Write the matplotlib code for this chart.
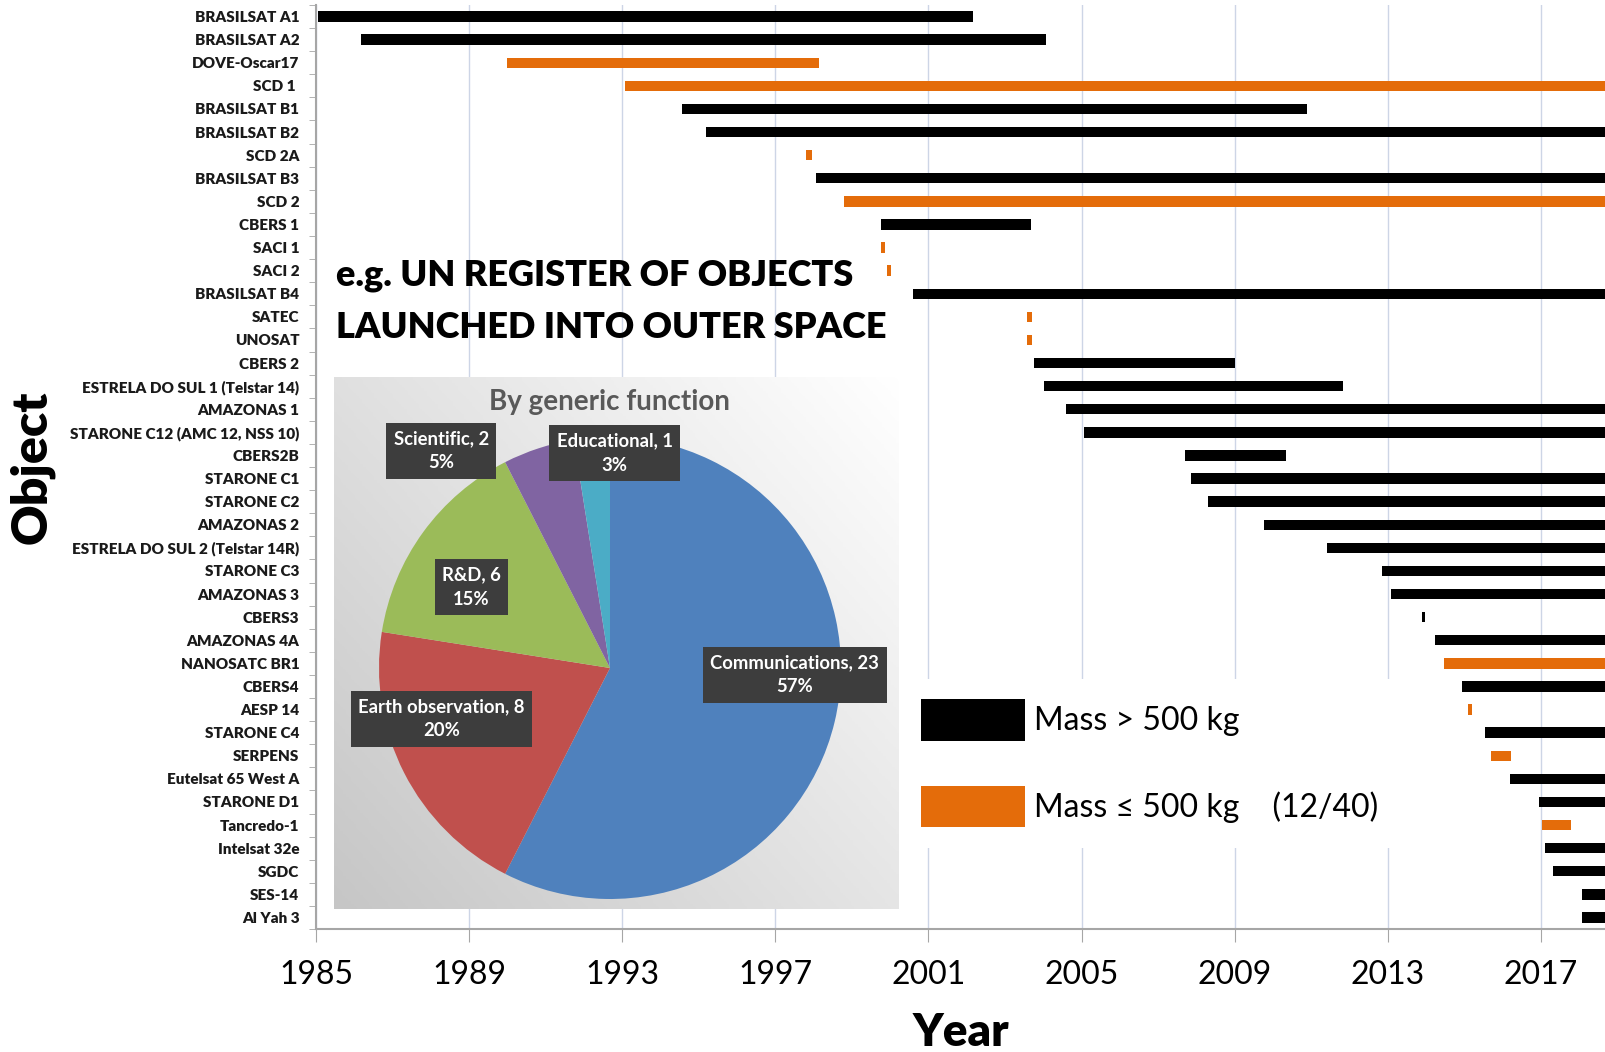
import numpy as np
import matplotlib
matplotlib.use("Agg")
from matplotlib import pyplot as plt
from matplotlib.patches import Patch
from matplotlib.colors import LinearSegmentedColormap

plt.rcParams['font.family'] = ['Lato', 'DejaVu Sans']

# satellites, in launch order (start/end in decimal years)
names = ["BRASILSAT A1", "BRASILSAT A2", "DOVE-Oscar17", "SCD 1 ", "BRASILSAT B1",
         "BRASILSAT B2", "SCD 2A", "BRASILSAT B3", "SCD 2", "CBERS 1",
         "SACI 1", "SACI 2", "BRASILSAT B4", "SATEC", "UNOSAT",
         "CBERS 2", "ESTRELA DO SUL 1 (Telstar 14)", "AMAZONAS 1",
         "STARONE C12 (AMC 12, NSS 10)", "CBERS2B",
         "STARONE C1", "STARONE C2", "AMAZONAS 2", "ESTRELA DO SUL 2 (Telstar 14R)",
         "STARONE C3", "AMAZONAS 3", "CBERS3", "AMAZONAS 4A", "NANOSATC BR1", "CBERS4",
         "AESP 14", "STARONE C4", "SERPENS", "Eutelsat 65 West A", "STARONE D1",
         "Tancredo-1", "Intelsat 32e", "SGDC", "SES-14", "Al Yah 3"]
start = [1985.05, 1986.18, 1990.0, 1993.06, 1994.56,
         1995.18, 1997.8, 1998.07, 1998.79, 1999.76,
         1999.76, 1999.92, 2000.59, 2003.58, 2003.58,
         2003.77, 2004.01, 2004.58, 2005.06, 2007.71,
         2007.87, 2008.3, 2009.77, 2011.4, 2012.85,
         2013.09, 2013.9, 2014.24, 2014.46, 2014.94,
         2015.1, 2015.53, 2015.69, 2016.2, 2016.95,
         2017.03, 2017.11, 2017.32, 2018.07, 2018.07]
end = [2002.17, 2004.07, 1998.15, 2018.7, 2010.9,
       2018.7, 1997.95, 2018.7, 2018.7, 2003.67,
       1999.86, 2000.02, 2018.7, 2003.7, 2003.7,
       2009.02, 2011.83, 2018.7, 2018.7, 2010.33,
       2018.7, 2018.7, 2018.7, 2018.7, 2018.7,
       2018.7, 2013.98, 2018.7, 2018.7, 2018.7,
       2015.2, 2018.7, 2016.23, 2018.7, 2018.7,
       2017.78, 2018.7, 2018.7, 2018.7, 2018.7]
small = [0, 0, 1, 1, 0, 0, 1, 0, 1, 0,
         1, 1, 0, 1, 1, 0, 0, 0, 0, 0,
         0, 0, 0, 0, 0, 0, 0, 0, 1, 0,
         1, 0, 1, 0, 0, 1, 0, 0, 0, 0]
years = [1985, 1989, 1993, 1997, 2001, 2005, 2009, 2013, 2017]

pie_labels = ["Communications", "Earth observation", "R&D", "Scientific", "Educational"]
pie_counts = [23, 8, 6, 2, 1]
pie_pcts = [57, 20, 15, 5, 3]
pie_colors = ["#4F81BD", "#C0504D", "#9BBB59", "#8064A2", "#4BACC6"]

legend_labels = ["Mass > 500 kg", "Mass \u2264 500 kg    (12/40)"]

orange = "#E46C0A"
W, H = 1606, 1052

fig = plt.figure(figsize=(W / 100, H / 100), dpi=100)
ax = fig.add_axes([316 / W, 1 - 929 / H, 1 - 316 / W, (929 - 5) / H])

y = np.arange(len(names))
colors = [orange if s else "black" for s in small]
ax.barh(y, np.array(end) - np.array(start), left=start, height=0.45,
        color=colors, zorder=3)
ax.set_xlim(1985, 2018.7)
ax.set_ylim(len(names) - 0.5, -0.5)
ax.set_xticks(years)
ax.set_yticks(y, names, fontsize=11, fontweight="heavy", color="#1a1a1a")
ax.set_yticks(np.arange(-0.5, len(names)), minor=True)
ax.tick_params(axis="y", which="major", length=0, pad=12)
ax.tick_params(axis="y", which="minor", length=5, color="#a6a6a6")
ax.tick_params(axis="x", length=9, color="#a6a6a6", labelsize=23, pad=13)
ax.grid(axis="x", color="#cdd5e6", lw=1)
ax.set_axisbelow(True)
for s in ["top", "right"]:
    ax.spines[s].set_visible(False)
for s in ["left", "bottom"]:
    ax.spines[s].set_color("#a6a6a6")
    ax.spines[s].set_linewidth(1.5)

ax.set_xlabel("Year", fontsize=33, fontweight="heavy", va="center")
ax.xaxis.set_label_coords(0.5, -0.112)
ax.set_ylabel("Object", fontsize=36, fontweight="heavy", va="center")
ax.yaxis.set_label_coords(-0.22, 0.5)

fig.text(336 / W, 1 - 276 / H, "e.g. UN REGISTER OF OBJECTS", fontsize=26,
         fontweight="heavy", va="center")
fig.text(336 / W, 1 - 328 / H, "LAUNCHED INTO OUTER SPACE", fontsize=26,
         fontweight="heavy", va="center")

leg = ax.legend(handles=[Patch(fc="black"), Patch(fc=orange)], labels=legend_labels,
                loc="upper left", bbox_to_anchor=(901 / W, 1 - 679 / H),
                bbox_transform=fig.transFigure, borderaxespad=0, fontsize=23,
                handlelength=3.26, handleheight=1.62, labelspacing=1.42,
                handletextpad=0.28, borderpad=0.63, frameon=True, fancybox=False,
                facecolor="white", edgecolor="none", framealpha=1)
leg.set_zorder(2)

# inset with grey gradient background
bg = fig.add_axes([334 / W, 1 - 909 / H, 565 / W, 532 / H])
gx, gy = np.meshgrid(np.linspace(0, 1, 200), np.linspace(0, 1, 200))
grad = 0.55 * gx + 0.45 * gy
cmap = LinearSegmentedColormap.from_list("g", ["#c6c6c6", "#ffffff"])
bg.imshow(grad, extent=[0, 1, 0, 1], origin="lower", aspect="auto", cmap=cmap)
bg.axis("off")
bg.text(0.487, 0.953, "By generic function", fontsize=20, fontweight="bold",
        color="#595959", ha="center", va="center")

pax = fig.add_axes([(610 - 231) / W, 1 - (668 + 231) / H, 462 / W, 462 / H])
pax.pie(pie_counts, colors=pie_colors, startangle=90, counterclock=False,
        radius=1, frame=False)
pax.set_xlim(-1, 1)
pax.set_ylim(-1, 1)
pax.axis("off")
label_pos = [(0.80, -0.03), (-0.73, -0.22), (-0.60, 0.35), (-0.73, 0.94), (0.02, 0.93)]
for lab, n, p, (lx, ly) in zip(pie_labels, pie_counts, pie_pcts, label_pos):
    pax.text(lx, ly, f"{lab}, {n}\n{p}%", ha="center", va="center", color="white",
             fontsize=13.3, fontweight="bold", linespacing=1.5,
             bbox=dict(boxstyle="square,pad=0.4", fc="#3d3d3d", ec="none"))

fig.savefig("out.png", dpi=100)
